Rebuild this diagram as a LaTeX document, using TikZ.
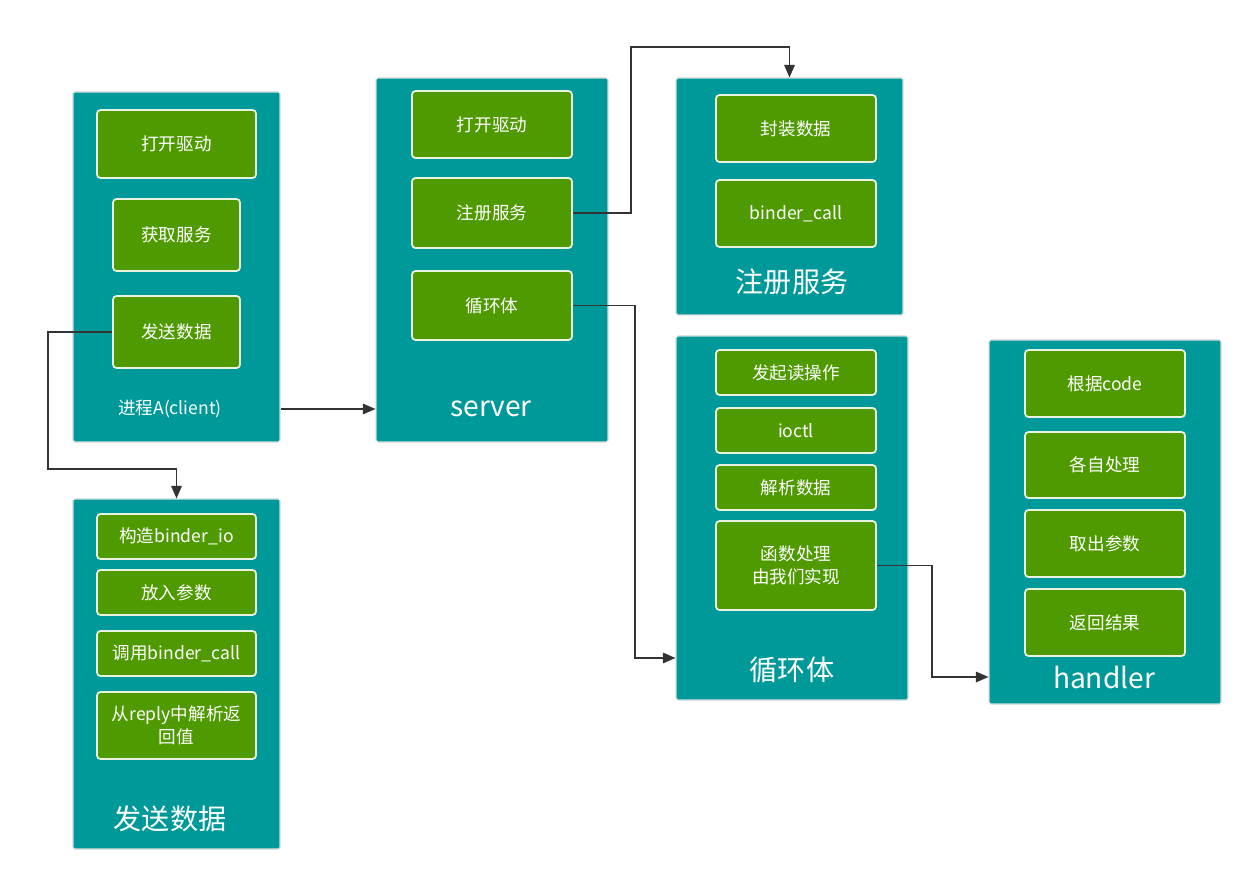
\documentclass[tikz,border=0pt]{standalone}
\usepackage{fontspec}
\setmainfont{Noto Sans CJK SC}
\usetikzlibrary{arrows.meta,calc}
\definecolor{lagoon}{RGB}{0,153,153}
\definecolor{moss}{RGB}{78,154,0}
\definecolor{rim}{RGB}{215,222,222}
\definecolor{ink}{RGB}{51,51,51}
\tikzset{
  >={Triangle[length=2.5mm,width=2.1mm]},
  panel/.style={draw=rim,fill=lagoon,line width=0.6pt,rounded corners=1pt},
  cell/.style={draw=white!88!moss,fill=moss,line width=1pt,rounded corners=2pt,
    text=white,align=center,font=\fontsize{10}{13}\selectfont,minimum width=#1},
  cell/.default=32mm,
  caption/.style={text=white,font=\fontsize{10}{12}\selectfont},
  title/.style={text=white,font=\fontsize{16}{19}\selectfont},
  flow/.style={->,draw=ink,line width=0.85pt},
}

\begin{document}
\begin{tikzpicture}[x=0.2mm,y=-0.2mm]
  \useasboundingbox (0,0) rectangle (1253,882);
  % panels
  \node[panel,minimum width=41.4mm,minimum height=70mm] (pClient) at (176.5,267) {};
  \node[panel,minimum width=46.4mm,minimum height=72.8mm] (pServer) at (492,260) {};
  \node[panel,minimum width=45.4mm,minimum height=47.4mm] (pReg) at (789.5,196.5) {};
  \node[panel,minimum width=46.4mm,minimum height=72.8mm] (pLoop) at (792,518) {};
  \node[panel,minimum width=46.4mm,minimum height=72.8mm] (pHandler) at (1105,522) {};
  \node[panel,minimum width=41.4mm,minimum height=70mm] (pSend) at (176.5,674) {};

  % process A
  \foreach \n/\y/\w/\h/\t in {a1/144/159/68/打开驱动, a2/235/127/72/获取服务, a3/332/127/72/发送数据}
    \node[cell=\w*0.2mm,minimum height=\h*0.2mm] (\n) at (176.5,\y) {\t};
  \node[caption] (tClient) at (170,409) {进程A(client)};

  % server
  \foreach \n/\y/\h/\t in {s1/124.5/67/打开驱动, s2/213/70/注册服务, s3/305.5/69/循环体}
    \node[cell,minimum height=\h*0.2mm] (\n) at (492,\y) {\t};
  \node[title] (tServer) at (491,409) {server};

  % register
  \foreach \n/\y/\h/\t in {r1/128.5/67/封装数据, r2/213.5/67/binder\_call}
    \node[cell,minimum height=\h*0.2mm] (\n) at (796,\y) {\t};
  \node[title] (tReg) at (792,282) {注册服务};

  % loop
  \foreach \n/\y/\h/\t in {l1/372.5/45/发起读操作, l2/430.5/45/ioctl, l3/487.5/45/解析数据,
      l4/565.5/89/函数处理\\由我们实现}
    \node[cell,minimum height=\h*0.2mm] (\n) at (796,\y) {\t};
  \node[title] (tLoop) at (792,670) {循环体};

  % handler
  \foreach \n/\y/\h/\t in {h1/383.5/67/根据code, h2/465/66/各自处理, h3/543.5/67/取出参数, h4/622.5/67/返回结果}
    \node[cell,minimum height=\h*0.2mm] (\n) at (1105,\y) {\t};
  \node[title] (tHandler) at (1104,677) {handler};

  % send data
  \foreach \n/\y/\h/\t in {d1/536.5/45/构造binder\_io, d2/592.5/45/放入参数, d3/653.5/45/调用binder\_call,
      d4/725.5/67/从reply中解析返\\回值}
    \node[cell=31.8mm,minimum height=\h*0.2mm] (\n) at (176.5,\y) {\t};
  \node[title] (tSend) at (170,819) {发送数据};

  % connectors
  \coordinate (k1) at (48,469);
  \coordinate (k2) at (631,47);
  \coordinate (k3) at (635,658);
  \coordinate (k4) at (932,677);
  \draw[flow] (a3.west) -| (k1) -| (pSend.north);
  \draw[flow] (pClient.east |- tClient) -- (pServer.west |- tClient);
  \draw[flow] (s2.east) -| (k2) -| (pReg.north);
  \draw[flow] (s3.east) -| (k3) -- (pLoop.west |- k3);
  \draw[flow] (l4.east) -| (k4) -- (pHandler.west |- k4);
\end{tikzpicture}
\end{document}
